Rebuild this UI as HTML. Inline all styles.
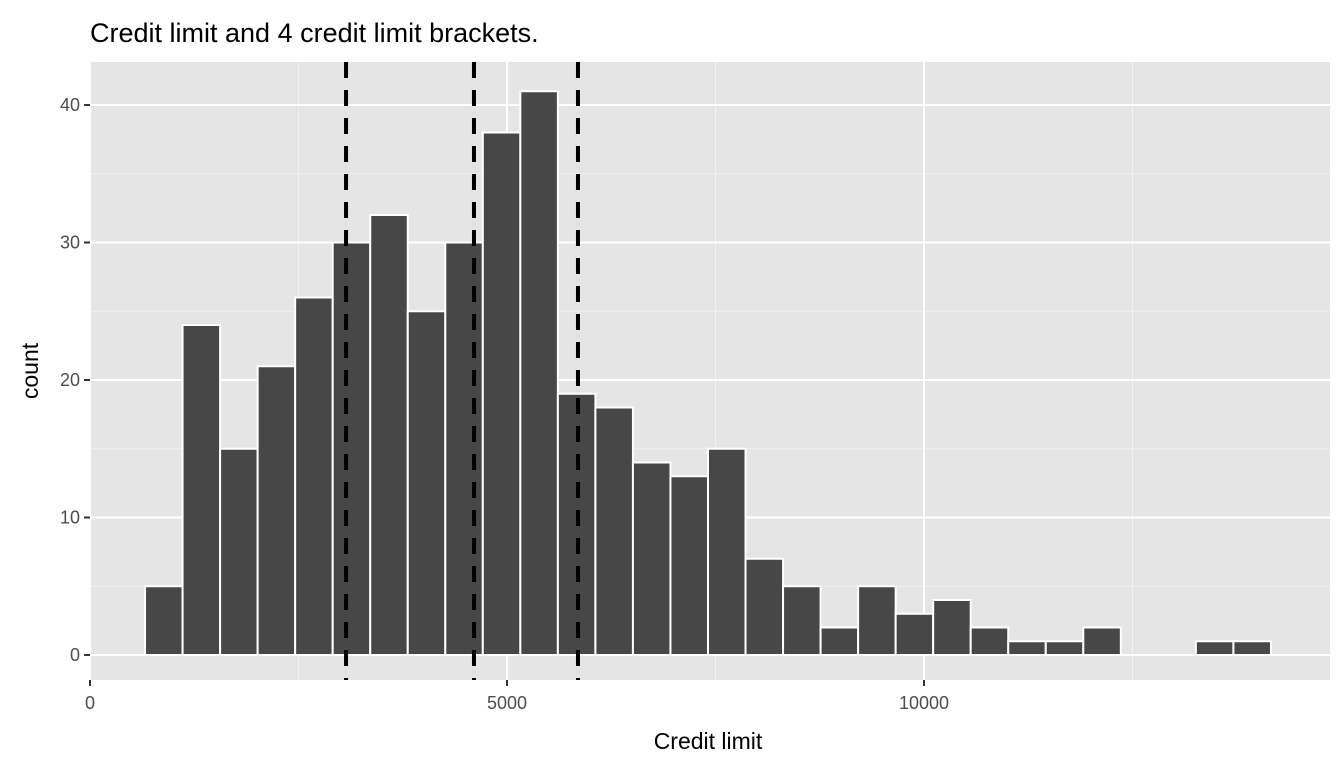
<!DOCTYPE html>
<html><head><meta charset="utf-8"><style>
body{margin:0;background:#fff;font-family:"Liberation Sans",Arial,sans-serif}
</style></head><body>
<svg width="1344" height="768" xmlns="http://www.w3.org/2000/svg">
<text x="90" y="42" font-size="27" fill="#000">Credit limit and 4 credit limit brackets.</text>
<rect x="90" y="62" width="1240" height="618" fill="#e5e5e5"/>
<g id="grid"></g><g id="bars"></g><g id="vlines"></g><g id="axes"></g>
<text x="708" y="749" font-size="23" text-anchor="middle">Credit limit</text>
<text transform="translate(38,371) rotate(-90)" font-size="23" text-anchor="middle">count</text>
</svg>
<script>
const binStart = 660;
const binWidth = 450;
const counts = [5,24,15,21,26,30,32,25,30,38,41,19,18,14,13,15,7,5,2,5,3,4,2,1,1,2,0,0,1,1];
const cutoffs = [3070,4604,5851];
const xTicks = [0,5000,10000];
const xTickLabels = ["0","5000","10000"];
const yTicks = [0,10,20,30,40];
const yTickLabels = ["0","10","20","30","40"];
const NS="http://www.w3.org/2000/svg";
const X=v=>90+v*0.0834, Y=v=>655-v*13.75;
function mk(tag,attrs,parent){const e=document.createElementNS(NS,tag);for(const k in attrs)e.setAttribute(k,attrs[k]);document.getElementById(parent).appendChild(e);return e;}
const g='grid';
[2500,7500,12500].forEach(v=>{const l=mk('line',{x1:X(v),x2:X(v),y1:62,y2:680,stroke:'#f2f2f2','stroke-width':1},g);});
[5,15,25,35,45].forEach(v=>{if(Y(v)<62)return;const l=mk('line',{x1:90,x2:1330,y1:Y(v),y2:Y(v),stroke:'#f2f2f2','stroke-width':1},g);});
xTicks.forEach((v,i)=>{const l=mk('line',{x1:X(v),x2:X(v),y1:62,y2:680,stroke:'#fff','stroke-width':2},g);
const t=mk('line',{x1:X(v),x2:X(v),y1:680,y2:686,stroke:'#333','stroke-width':2},'axes');
const tx=mk('text',{x:X(v),y:709,'font-size':18,fill:'#4d4d4d','text-anchor':'middle'},'axes');tx.textContent=xTickLabels[i];});
yTicks.forEach((v,i)=>{const l=mk('line',{x1:90,x2:1330,y1:Y(v),y2:Y(v),stroke:'#fff','stroke-width':2},g);
const t=mk('line',{x1:84,x2:90,y1:Y(v),y2:Y(v),stroke:'#333','stroke-width':2},'axes');
const tx=mk('text',{x:80,y:Y(v)+6,'font-size':18,fill:'#4d4d4d','text-anchor':'end'},'axes');tx.textContent=yTickLabels[i];});
counts.forEach((c,i)=>{if(c<=0)return;const x0=X(binStart+i*binWidth),x1=X(binStart+(i+1)*binWidth);
const r=mk('rect',{x:x0,y:Y(c),width:x1-x0,height:Y(0)-Y(c),fill:'#474747',stroke:'#fff','stroke-width':2},'bars');});
cutoffs.forEach(v=>{const l=mk('line',{x1:X(v),x2:X(v),y1:62,y2:680,stroke:'#000','stroke-width':4,'stroke-dasharray':'16,12'},'vlines');});
</script>
</body></html>
